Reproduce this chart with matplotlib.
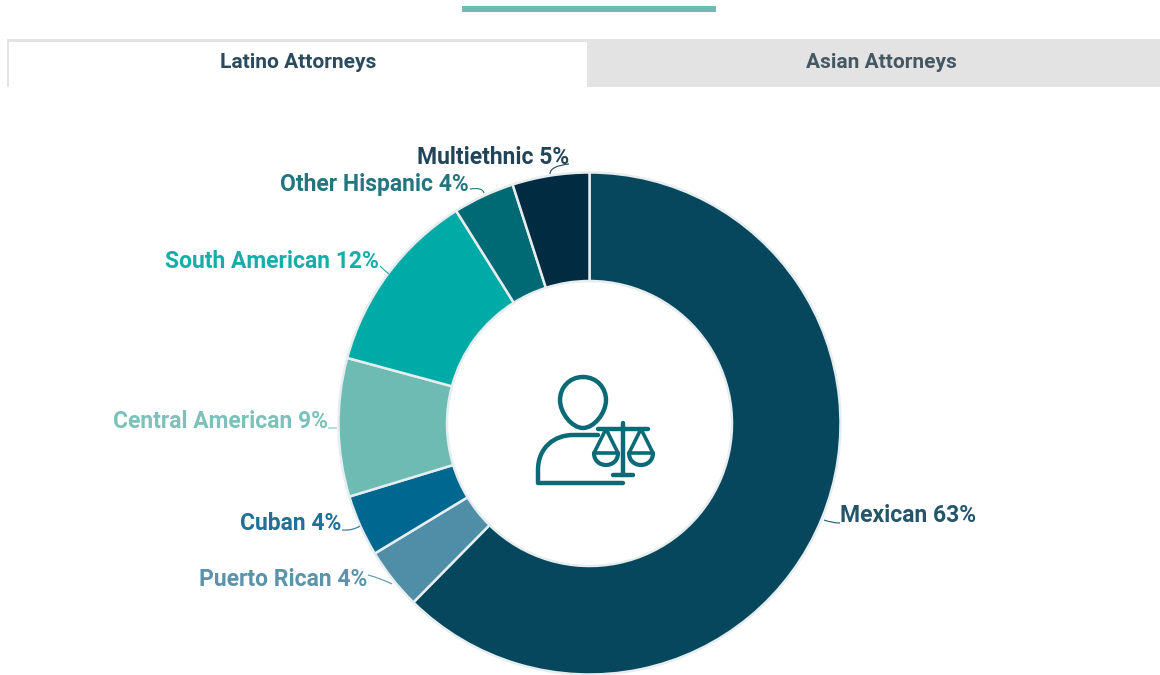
import matplotlib
matplotlib.use('Agg')
import matplotlib.pyplot as plt
from matplotlib.patches import Rectangle, PathPatch
from matplotlib.path import Path

plt.rcParams['font.family'] = ['Roboto', 'DejaVu Sans']

# values
groups = ['Mexican', 'Puerto Rican', 'Cuban', 'Central American', 'South American', 'Other Hispanic', 'Multiethnic']
shares = [63, 4, 4, 9, 12, 4, 5]
slice_colors = ['#07475e', '#4f8ea6', '#006890', '#6dbbb3', '#00aaa6', '#006a74', '#002b40']
label_colors = ['#24566b', '#5b94aa', '#1f7197', '#7cc2ba', '#17aeaa', '#237680', '#22445a']
tab_names = ['Latino Attorneys', 'Asian Attorneys']

W, H = 1160, 675
ICON = '#0a6a75'


def py(y):
    # picture pixels count from the top
    return H - y


fig = plt.figure(figsize=(W / 100, H / 100), dpi=100)
ax = fig.add_axes([0, 0, 1, 1])
ax.set_xlim(0, W)
ax.set_ylim(0, H)
ax.axis('off')

# top bar and tabs
ax.add_patch(Rectangle((462, py(12)), 254, 6, color='#6dbbb3', lw=0))
ax.add_patch(Rectangle((7, py(87)), 1153, 48, color='#e3e3e3', lw=0))
ax.add_patch(Rectangle((9, py(90)), 578, 48.5, color='white', lw=0))
ax.text(298, py(62), tab_names[0], ha='center', va='center', fontsize=15, fontweight='bold', color='#2a4a5e')
ax.text(881, py(62), tab_names[1], ha='center', va='center', fontsize=15, fontweight='bold', color='#445863')
ax.add_patch(Rectangle((0, 0), W, py(87), color='white', lw=0, zorder=1.5))

# donut
ax.pie(shares, colors=slice_colors, startangle=90, counterclock=False, center=(589.5, py(423.5)), radius=251,
       frame=True, wedgeprops=dict(width=108.5, edgecolor='#e6edef', linewidth=1.8, zorder=2))
ax.set_xlim(0, W)
ax.set_ylim(0, H)
ax.set_aspect('auto')
ax.axis('off')

# labels: right edge x (left edge for Mexican), y, then leader line start / control / end
label_pos = [(840, 516), (367, 580), (341, 524), (328, 422), (379, 261), (469, 184), (569, 157)]
leaders = [
    [(840, 523), (832, 523), (824, 520)],
    [(368, 575), (380, 578), (392, 584)],
    [(342, 530), (352, 531), (360, 526)],
    [(328, 428), (332, 428), (337, 428)],
    [(380, 266), (384, 270), (389, 274)],
    [(470, 189), (483, 187), (484, 193)],
    [(569, 164), (550, 166), (550, 174)],
]
for i, name in enumerate(groups):
    x, y = label_pos[i]
    ax.text(x, py(y), f'{name} {shares[i]}%', ha='left' if i == 0 else 'right', va='center',
            fontsize=16.5, fontweight='bold', color=label_colors[i], zorder=4)
    pts = [(a, py(b)) for a, b in leaders[i]]
    ax.add_patch(PathPatch(Path(pts, [Path.MOVETO, Path.CURVE3, Path.CURVE3]), fill=False,
                           edgecolor=label_colors[i], lw=0.8, zorder=3))


# icon in the middle
def stroke(points, codes=None, lw=3.2):
    pts = [(a, py(b)) for a, b in points]
    ax.add_patch(PathPatch(Path(pts, codes), fill=False, edgecolor=ICON, lw=lw, capstyle='round',
                           joinstyle='round', zorder=5))


C = Path.CURVE4
M = Path.MOVETO
L = Path.LINETO
stroke([(583, 377), (569, 377), (560, 388), (560, 400), (560, 413), (572, 428), (583, 428),
        (594, 428), (606, 413), (606, 400), (606, 388), (597, 377), (583, 377)],
       [M, C, C, C, C, C, C, C, C, C, C, C, C])
stroke([(598, 435), (573, 435), (555, 435), (538, 447), (538, 470), (538, 483), (623, 483)],
       [M, L, C, C, C, L, L])
stroke([(598, 429), (648, 429)])
stroke([(623, 423), (623, 475)])
stroke([(613, 475), (633, 475)])
for c in (606, 641):
    stroke([(c, 429), (c - 12, 453), (c + 12, 453), (c, 429)], lw=2.6)
    stroke([(c - 12, 453), (c - 12, 469), (c + 12, 469), (c + 12, 453)], [M, C, C, C], lw=3)

fig.savefig('out.png', dpi=100)
